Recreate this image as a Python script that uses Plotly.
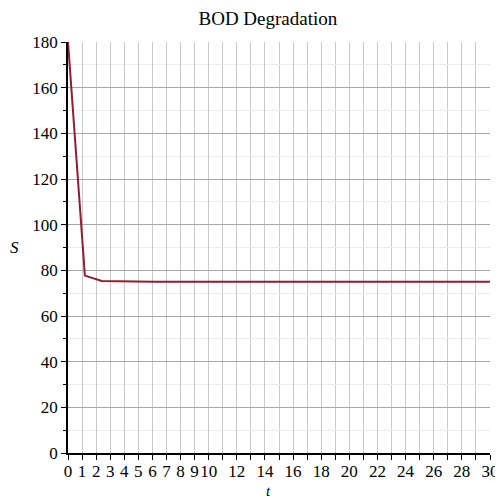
import plotly.graph_objects as go

t_vals = [0, 1.2, 2.4, 3.6, 4.8, 6.0, 7.2, 8.4, 9.6, 10.8, 12.0, 13.2, 14.4,
          15.6, 16.8, 18.0, 19.2, 20.4, 21.6, 22.8, 24.0, 25.2, 26.4, 27.6, 28.8, 30.0]
S_vals = [180, 77.7, 75.3, 75.1, 75.0, 75.0, 75.0, 75.0, 75.0, 75.0, 75.0, 75.0, 75.0,
          75.0, 75.0, 75.0, 75.0, 75.0, 75.0, 75.0, 75.0, 75.0, 75.0, 75.0, 75.0, 75.0]

x_tick_vals = [0, 1, 2, 3, 4, 5, 6, 7, 8, 9, 10, 12, 14, 16, 18, 20, 22, 24, 26, 28, 30]
x_tick_text = [str(v) for v in x_tick_vals]
y_tick_vals = [0, 20, 40, 60, 80, 100, 120, 140, 160, 180]

font_family = "Liberation Serif"

fig = go.Figure()
fig.add_trace(go.Scatter(x=t_vals, y=S_vals, mode="lines",
                         line=dict(color="#8e1f30", width=2), showlegend=False))

fig.update_layout(
    width=495, height=492,
    margin=dict(l=60, r=13, t=34, b=47),
    paper_bgcolor="white", plot_bgcolor="white",
    font=dict(family=font_family, size=17, color="black"),
    title=dict(text="BOD Degradation", x=0.525, xanchor="center", y=0.992, yanchor="top",
               font=dict(family=font_family, size=19, color="black")),
)

fig.update_xaxes(
    range=[0, 30], tickmode="array", tickvals=x_tick_vals, ticktext=x_tick_text,
    showgrid=True, gridcolor="#c8c8c8", gridwidth=1,
    showline=True, linecolor="black", linewidth=1.5,
    ticks="outside", ticklen=5, tickcolor="black", ticklabelstandoff=-3,
    minor=dict(tickmode="linear", tick0=0, dtick=1, showgrid=True, gridcolor="#c8c8c8",
               ticks="outside", ticklen=5, tickcolor="black"),
    zeroline=False, tickangle=0, automargin=False,
)

fig.update_yaxes(
    range=[0, 180], tickmode="array", tickvals=y_tick_vals,
    showgrid=True, gridcolor="#a6a6a6", gridwidth=1,
    showline=True, linecolor="black", linewidth=1.5,
    ticks="outside", ticklen=5, tickcolor="black",
    minor=dict(tickmode="linear", tick0=0, dtick=10, showgrid=True, gridcolor="#ebebeb",
               ticks="outside", ticklen=3, tickcolor="black"),
    zeroline=False, automargin=False,
)

fig.add_annotation(text="<i>S</i>", xref="paper", yref="paper", x=-0.126, y=0.5,
                   xanchor="center", yanchor="middle", showarrow=False,
                   font=dict(family=font_family, size=17, color="black"))
fig.add_annotation(text="<i>t</i>", xref="paper", yref="paper", x=0.474, y=-0.092,
                   xanchor="center", yanchor="middle", showarrow=False,
                   font=dict(family=font_family, size=15, color="black"))

fig.write_html("out.html")
